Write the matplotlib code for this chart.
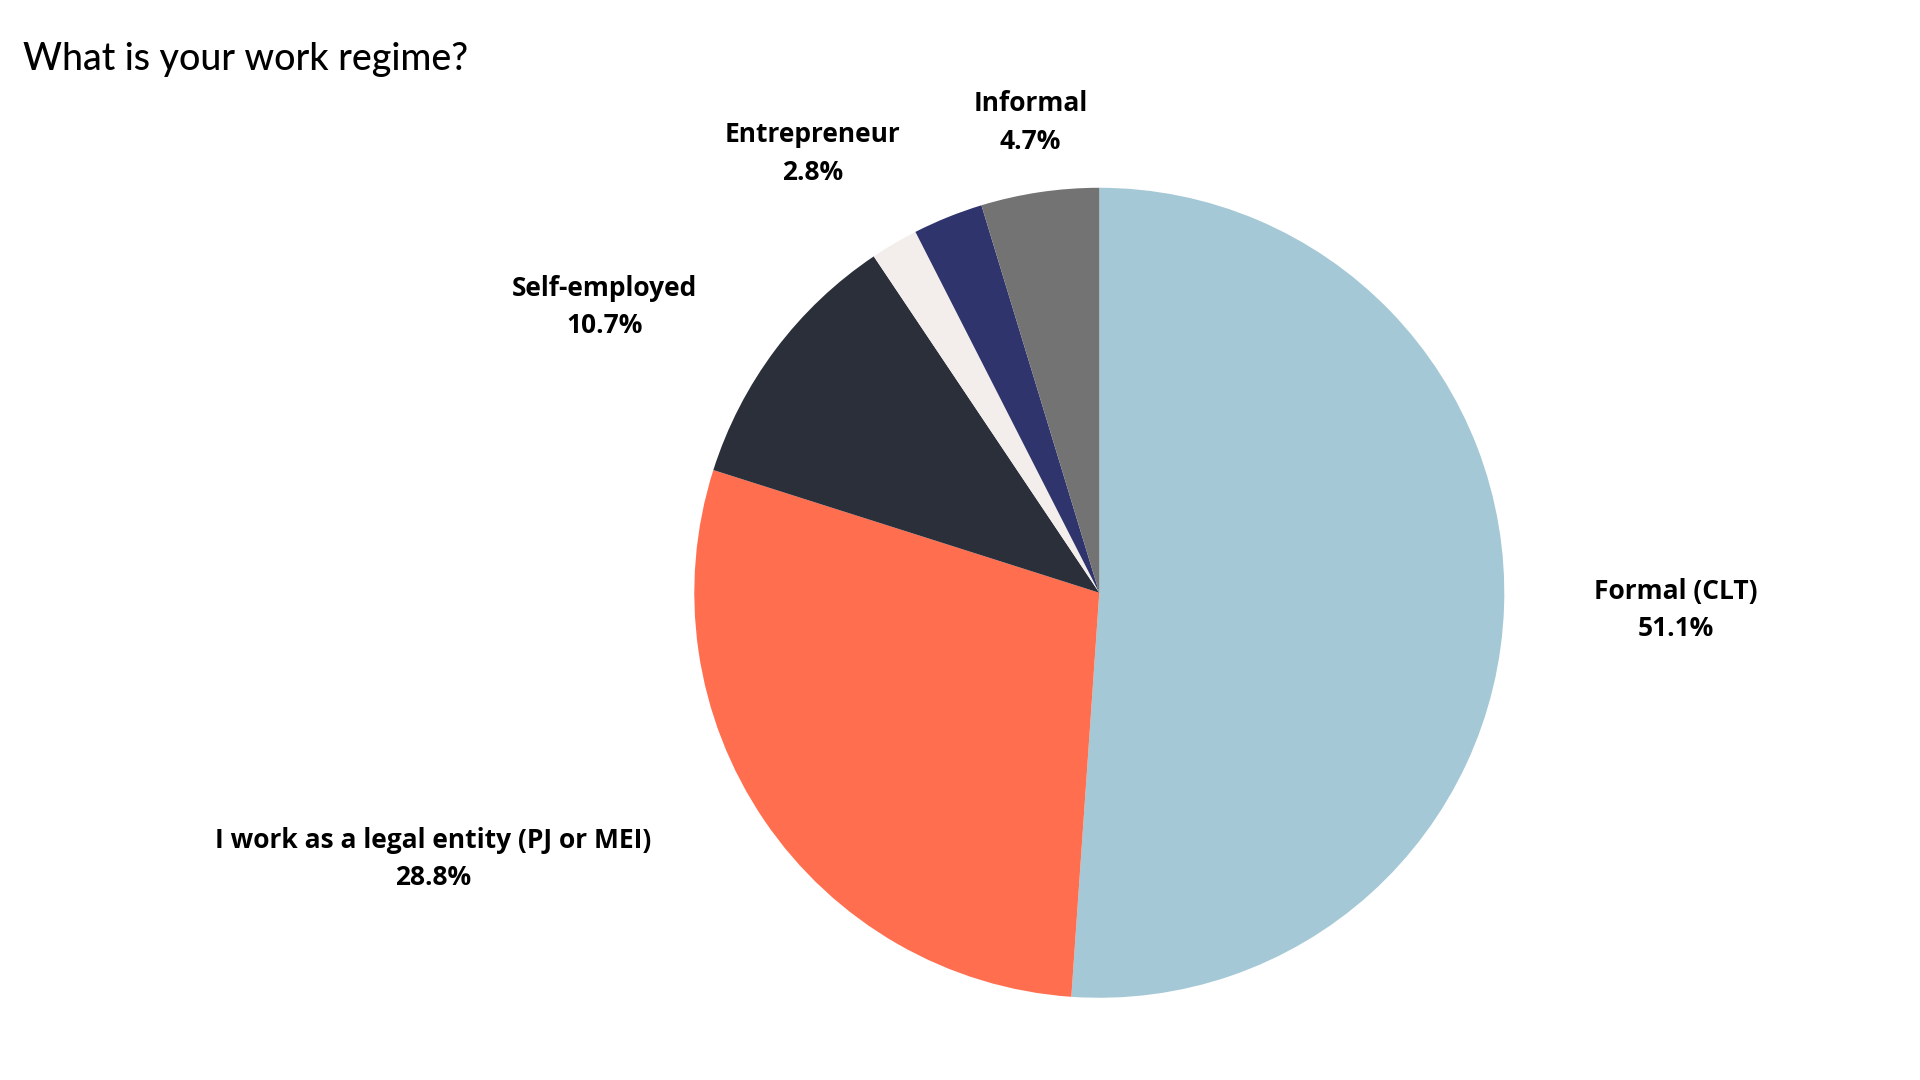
import matplotlib
matplotlib.use("Agg")
import matplotlib.pyplot as plt

labels = ["Formal (CLT)", "I work as a legal entity (PJ or MEI)", "Self-employed", "", "Entrepreneur", "Informal"]
values = [51.1, 28.8, 10.7, 1.9, 2.8, 4.7]
colors = ["#A4C8D5", "#FF6F4F", "#2B2F39", "#F3EEEC", "#30346C", "#737373"]
label_pos = [(1365, 497), (352, 700), (492, 250), None, (661, 125), (839, 100)]

W, H = 1563, 880
fig = plt.figure(figsize=(19.2, 10.8), dpi=100)
ax = fig.add_axes([0, 0, 1, 1])
ax.set_xlim(0, W)
ax.set_ylim(0, H)
ax.set_aspect("equal")
ax.axis("off")

ax.pie(values, colors=colors, startangle=90, counterclock=False,
       center=(895, H - 483), radius=330, frame=True,
       wedgeprops=dict(linewidth=0))
ax.set_xlim(0, W); ax.set_ylim(0, H); ax.axis("off")

for lab, v, p in zip(labels, values, label_pos):
    if p is None:
        continue
    ax.text(p[0], H - p[1], f"{lab}\n{v}%", ha="center", va="center",
            fontsize=19, fontweight="bold", family="Open Sans", linespacing=1.5)

fig.text(0.012, 0.945, "What is your work regime?", fontsize=27, family="Lato",
         fontweight="medium", ha="left", va="center")
fig.savefig("out.png", dpi=100, facecolor="white")
